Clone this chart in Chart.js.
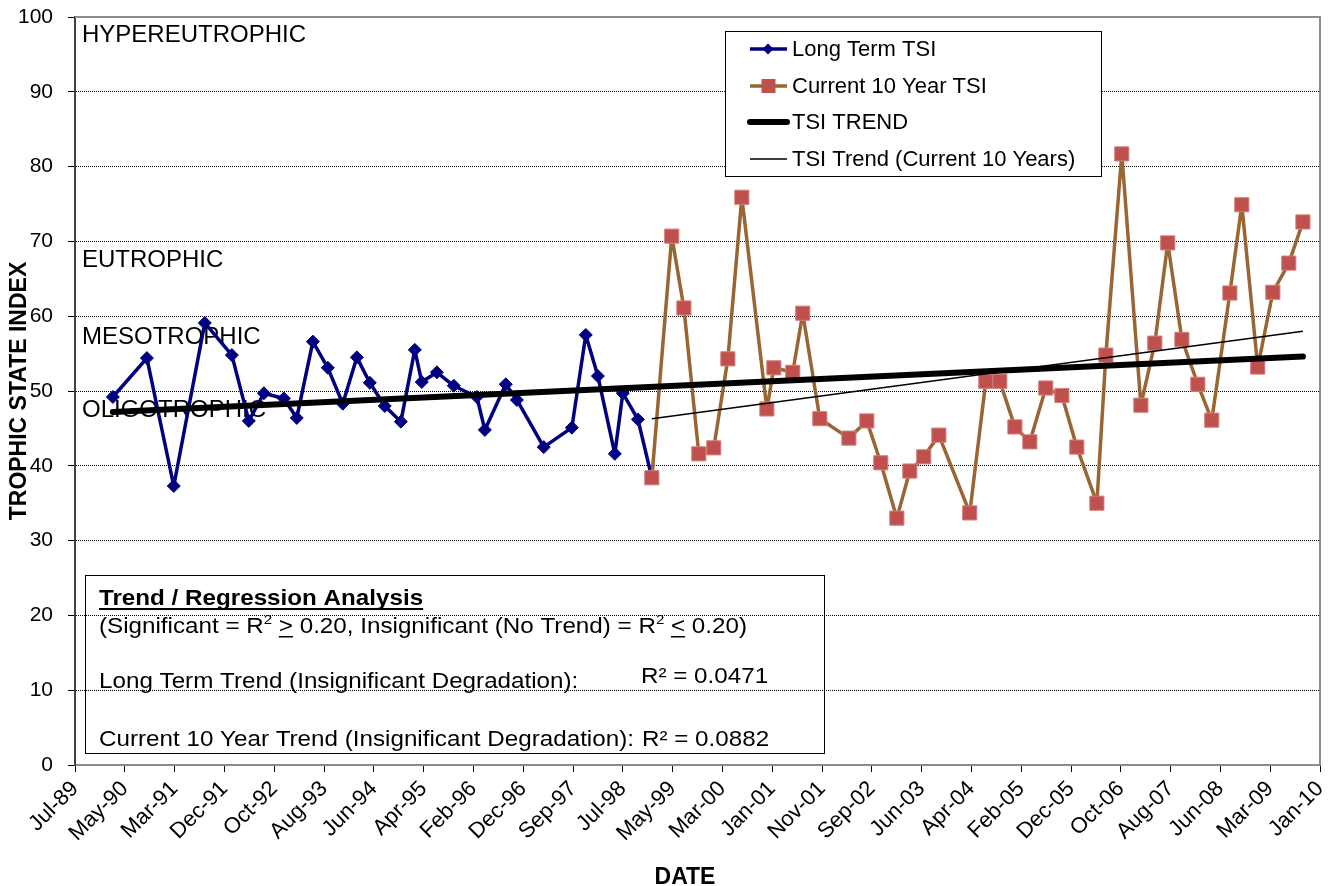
<!DOCTYPE html>
<html>
<head>
<meta charset="utf-8">
<title>Trophic State Index</title>
<script src="https://cdn.jsdelivr.net/npm/chart.js@4.4.0/dist/chart.umd.min.js"></script>
<style>
    html, body { margin: 0; padding: 0; background: #fff; }
    #wrap { width: 1338px; height: 886px; }
</style>
</head>
<body>
<div id="wrap"><canvas id="tsiChart" width="1338" height="886"></canvas></div>
<script>
// Sampling dates and TSI values
const longTermDates = [
    '1990-02-24', '1990-09-17', '1991-02-26', '1991-09-01', '1992-02-11', '1992-05-23', '1992-08-22', '1992-12-20',
    '1993-03-08', '1993-06-13', '1993-09-11', '1993-12-10', '1994-03-05', '1994-05-22', '1994-08-20', '1994-11-25',
    '1995-02-17', '1995-03-31', '1995-06-30', '1995-10-10', '1996-02-26', '1996-04-14', '1996-08-18', '1996-10-24',
    '1997-04-04', '1997-09-20', '1997-12-13', '1998-02-24', '1998-06-06', '1998-07-24', '1998-10-23', '1999-01-15'
];
const longTermTSI = [
    49.2, 54.4, 37.3, 59.1, 54.8, 46.0, 49.7, 49.0,
    46.4, 56.6, 53.1, 48.3, 54.5, 51.1, 48.0, 45.9,
    55.5, 51.2, 52.5, 50.7, 49.2, 44.8, 50.9, 48.8,
    42.5, 45.1, 57.5, 52.0, 41.6, 49.7, 46.2, 38.4
];

const currentDates = [
    '1999-01-15', '1999-05-15', '1999-07-27', '1999-10-25', '2000-01-23', '2000-04-17', '2000-07-10', '2000-12-08',
    '2001-01-19', '2001-05-13', '2001-07-12', '2001-10-23', '2002-04-16', '2002-08-02', '2002-10-25', '2003-01-30',
    '2003-04-18', '2003-07-11', '2003-10-10', '2004-04-13', '2004-07-19', '2004-10-11', '2005-01-10', '2005-04-10',
    '2005-07-15', '2005-10-20', '2006-01-18', '2006-05-19', '2006-07-12', '2006-10-16', '2007-02-08', '2007-05-03',
    '2007-07-20', '2007-10-13', '2008-01-17', '2008-04-10', '2008-07-28', '2008-10-08', '2009-01-12', '2009-04-13',
    '2009-07-18', '2009-10-11'
];
const currentTSI = [
    38.4, 70.7, 61.1, 41.6, 42.4, 54.3, 75.9, 47.6,
    53.1, 52.5, 60.4, 46.3, 43.7, 46.0, 40.4, 33.0,
    39.3, 41.2, 44.1, 33.7, 51.3, 51.3, 45.2, 43.2,
    50.4, 49.4, 42.5, 35.0, 54.8, 81.7, 48.1, 56.4,
    69.8, 56.9, 50.9, 46.1, 63.1, 74.9, 53.2, 63.2,
    67.1, 72.6
];

// Trend line end points
const longTrendDates = ['1990-02-24', '2009-10-11'];
const longTrendTSI = [47.2, 54.6];
const tenYearTrendDates = ['1999-01-15', '2009-10-11'];
const tenYearTrendTSI = [46.3, 58.0];

const longTermR2 = '0.0471';
const tenYearR2 = '0.0882';

// Axis
const xAxisStart = '1989-07-11';
const xAxisEnd = '2010-01-22';
const xStepDays = 300;
const xTickLabels = [
    'Jul-89', 'May-90', 'Mar-91', 'Dec-91', 'Oct-92', 'Aug-93', 'Jun-94', 'Apr-95', 'Feb-96', 'Dec-96',
    'Sep-97', 'Jul-98', 'May-99', 'Mar-00', 'Jan-01', 'Nov-01', 'Sep-02', 'Jun-03', 'Apr-04', 'Feb-05',
    'Dec-05', 'Oct-06', 'Aug-07', 'Jun-08', 'Mar-09', 'Jan-10'
];
const yMin = 0;
const yMax = 100;
const yStep = 10;

const FONT = "'Liberation Sans', Arial, Helvetica, sans-serif";

// Date string -> spreadsheet day number
function toSerial(iso) {
    const [y, m, d] = iso.split('-').map(Number);
    return (Date.UTC(y, m - 1, d) - Date.UTC(1899, 11, 30)) / 86400000;
}

function toPoints(dates, values) {
    return dates.map((d, i) => ({ x: toSerial(d), y: values[i] }));
}

// Text made of pieces: plain, superscript, underlined
function drawSegments(ctx, segments, x, y, size, bold) {
    let cx = x;
    segments.forEach(seg => {
        const s = seg.sup ? size * 0.62 : size;
        ctx.font = (bold ? 'bold ' : '') + s + 'px ' + FONT;
        const dy = seg.sup ? -size * 0.4 : 0;
        ctx.fillText(seg.t, cx, y + dy);
        const w = ctx.measureText(seg.t).width;
        if (seg.ul) {
            ctx.fillRect(cx, y + 3, w, bold ? 2 : 1.5);
        }
        cx += w;
    });
    return cx - x;
}

// Zone names inside the plot, under the data
const zoneLabelsPlugin = {
    id: 'zoneLabels',
    beforeDatasetsDraw(chart) {
        const { ctx, chartArea, scales } = chart;
        const zones = [
            { text: 'HYPEREUTROPHIC', value: 96.7 },
            { text: 'EUTROPHIC', value: 66.6 },
            { text: 'MESOTROPHIC', value: 56.3 },
            { text: 'OLIGOTROPHIC', value: 46.5 }
        ];
        ctx.save();
        ctx.fillStyle = '#000';
        ctx.font = '24px ' + FONT;
        ctx.textAlign = 'left';
        ctx.textBaseline = 'alphabetic';
        zones.forEach(z => {
            ctx.fillText(z.text, chartArea.left + 7, scales.y.getPixelForValue(z.value));
        });

        // plot area frame (top and right)
        ctx.strokeStyle = '#8c8c8c';
        ctx.lineWidth = 2;
        ctx.beginPath();
        ctx.moveTo(chartArea.left, chartArea.top);
        ctx.lineTo(chartArea.right, chartArea.top);
        ctx.lineTo(chartArea.right, chartArea.bottom);
        ctx.stroke();
        ctx.restore();
    }
};

// Legend box, regression box and x title
const overlayPlugin = {
    id: 'overlay',
    afterDraw(chart) {
        const ctx = chart.ctx;
        const ds = chart.data.datasets;
        ctx.save();

        // legend
        ctx.fillStyle = '#fff';
        ctx.fillRect(725, 31, 376, 145);
        ctx.strokeStyle = '#000';
        ctx.lineWidth = 1;
        ctx.strokeRect(725.5, 31.5, 376, 145);

        const items = [
            { ds: ds[3], y: 49, marker: 'diamond' },
            { ds: ds[2], y: 86, marker: 'square' },
            { ds: ds[1], y: 122, marker: null },
            { ds: ds[0], y: 159, marker: null }
        ];
        items.forEach(it => {
            ctx.strokeStyle = it.ds.borderColor;
            ctx.lineWidth = it.ds.borderWidth;
            ctx.lineCap = it.ds.borderCapStyle || 'butt';
            ctx.beginPath();
            ctx.moveTo(750, it.y);
            ctx.lineTo(787, it.y);
            ctx.stroke();
            ctx.lineCap = 'butt';
            ctx.fillStyle = it.ds.pointBackgroundColor;
            if (it.marker === 'diamond') {
                ctx.beginPath();
                ctx.moveTo(768, it.y - 5.5);
                ctx.lineTo(773.5, it.y);
                ctx.lineTo(768, it.y + 5.5);
                ctx.lineTo(762.5, it.y);
                ctx.closePath();
                ctx.fill();
            } else if (it.marker === 'square') {
                ctx.fillRect(761.5, it.y - 7, 14, 14);
            }
            ctx.fillStyle = '#000';
            ctx.font = '22px ' + FONT;
            ctx.textAlign = 'left';
            ctx.textBaseline = 'middle';
            ctx.fillText(it.ds.label, 792, it.y + 1);
        });

        // regression box
        ctx.strokeStyle = '#000';
        ctx.lineWidth = 1;
        ctx.strokeRect(85.5, 575.5, 739, 178);
        ctx.fillStyle = '#000';
        ctx.textAlign = 'left';
        ctx.textBaseline = 'alphabetic';
        const line = (segs, x, y, bold) => {
            ctx.save();
            ctx.translate(x, y);
            ctx.scale(1.1, 1);
            drawSegments(ctx, segs, 0, 0, 22, bold);
            ctx.restore();
        };
        line([{ t: 'Trend / Regression Analysis', ul: true }], 99, 605, true);
        line([
            { t: '(Significant = R' }, { t: '2', sup: true }, { t: ' ' }, { t: '>', ul: true },
            { t: ' 0.20, Insignificant (No Trend) = R' }, { t: '2', sup: true }, { t: ' ' },
            { t: '<', ul: true }, { t: ' 0.20)' }
        ], 99, 633, false);
        line([{ t: 'Long Term Trend (Insignificant Degradation):' }], 99, 688, false);
        line([{ t: 'R\u00B2 = ' + longTermR2 }], 641, 683, false);
        line([{ t: 'Current 10 Year Trend (Insignificant Degradation):' }], 99, 746, false);
        line([{ t: 'R\u00B2 = ' + tenYearR2 }], 642, 746, false);

        // x axis title
        ctx.font = 'bold 23px ' + FONT;
        ctx.textAlign = 'center';
        ctx.fillText('DATE', 685, 884);
        ctx.restore();
    }
};

Chart.defaults.font.family = FONT;
Chart.defaults.color = '#000';

function initChart() {
    const ctx = document.getElementById('tsiChart').getContext('2d');

    new Chart(ctx, {
        type: 'line',
        data: {
            datasets: [
                {
                    label: 'TSI Trend (Current 10 Years)',
                    data: toPoints(tenYearTrendDates, tenYearTrendTSI),
                    borderColor: '#000',
                    borderWidth: 1.5,
                    pointRadius: 0,
                    order: 0
                },
                {
                    label: 'TSI TREND',
                    data: toPoints(longTrendDates, longTrendTSI),
                    borderColor: '#000',
                    borderWidth: 6,
                    borderCapStyle: 'round',
                    pointRadius: 0,
                    order: 1
                },
                {
                    label: 'Current 10 Year TSI',
                    data: toPoints(currentDates, currentTSI),
                    borderColor: '#996633',
                    borderWidth: 3.5,
                    borderJoinStyle: 'round',
                    pointStyle: 'rect',
                    pointRadius: 10,
                    pointBorderWidth: 1,
                    pointBackgroundColor: '#C0504D',
                    pointBorderColor: '#D27F7C',
                    order: 2
                },
                {
                    label: 'Long Term TSI',
                    data: toPoints(longTermDates, longTermTSI),
                    borderColor: '#000080',
                    borderWidth: 3.5,
                    borderJoinStyle: 'round',
                    pointStyle: 'rectRot',
                    pointRadius: 6.5,
                    pointBorderWidth: 1,
                    pointBackgroundColor: '#000080',
                    pointBorderColor: '#000080',
                    order: 3
                }
            ]
        },
        options: {
            responsive: false,
            animation: false,
            layout: {
                padding: { top: 17, right: 18, left: 0, bottom: 0 }
            },
            plugins: {
                legend: { display: false },
                tooltip: { enabled: false }
            },
            scales: {
                x: {
                    type: 'linear',
                    position: 'bottom',
                    min: toSerial(xAxisStart),
                    max: toSerial(xAxisEnd),
                    afterFit: scale => {
                        scale.height = 121;
                        scale.paddingLeft = 0;
                        scale.paddingRight = 0;
                    },
                    ticks: {
                        stepSize: xStepDays,
                        autoSkip: false,
                        minRotation: 45,
                        maxRotation: 45,
                        padding: 4,
                        font: { size: 22 },
                        callback: (value, index) => xTickLabels[index] || ''
                    },
                    grid: {
                        drawOnChartArea: false,
                        tickLength: 7,
                        tickColor: '#000',
                        tickWidth: 1
                    },
                    border: { color: '#8c8c8c', width: 2 }
                },
                y: {
                    min: yMin,
                    max: yMax,
                    afterFit: scale => {
                        scale.width = 75;
                        scale.paddingTop = 0;
                        scale.paddingBottom = 0;
                    },
                    ticks: {
                        stepSize: yStep,
                        padding: 15,
                        font: { size: 21 }
                    },
                    grid: {
                        color: '#000',
                        lineWidth: 1,
                        tickLength: 7,
                        tickColor: '#000',
                        tickWidth: 1,
                        tickBorderDash: []
                    },
                    border: { color: '#404040', width: 2, dash: [1, 1] },
                    title: {
                        display: true,
                        text: 'TROPHIC STATE INDEX',
                        font: { size: 23, weight: 'bold' },
                        padding: { top: 6, bottom: 0 }
                    }
                }
            }
        },
        plugins: [zoneLabelsPlugin, overlayPlugin]
    });
}

document.addEventListener('DOMContentLoaded', initChart);
</script>
</body>
</html>
